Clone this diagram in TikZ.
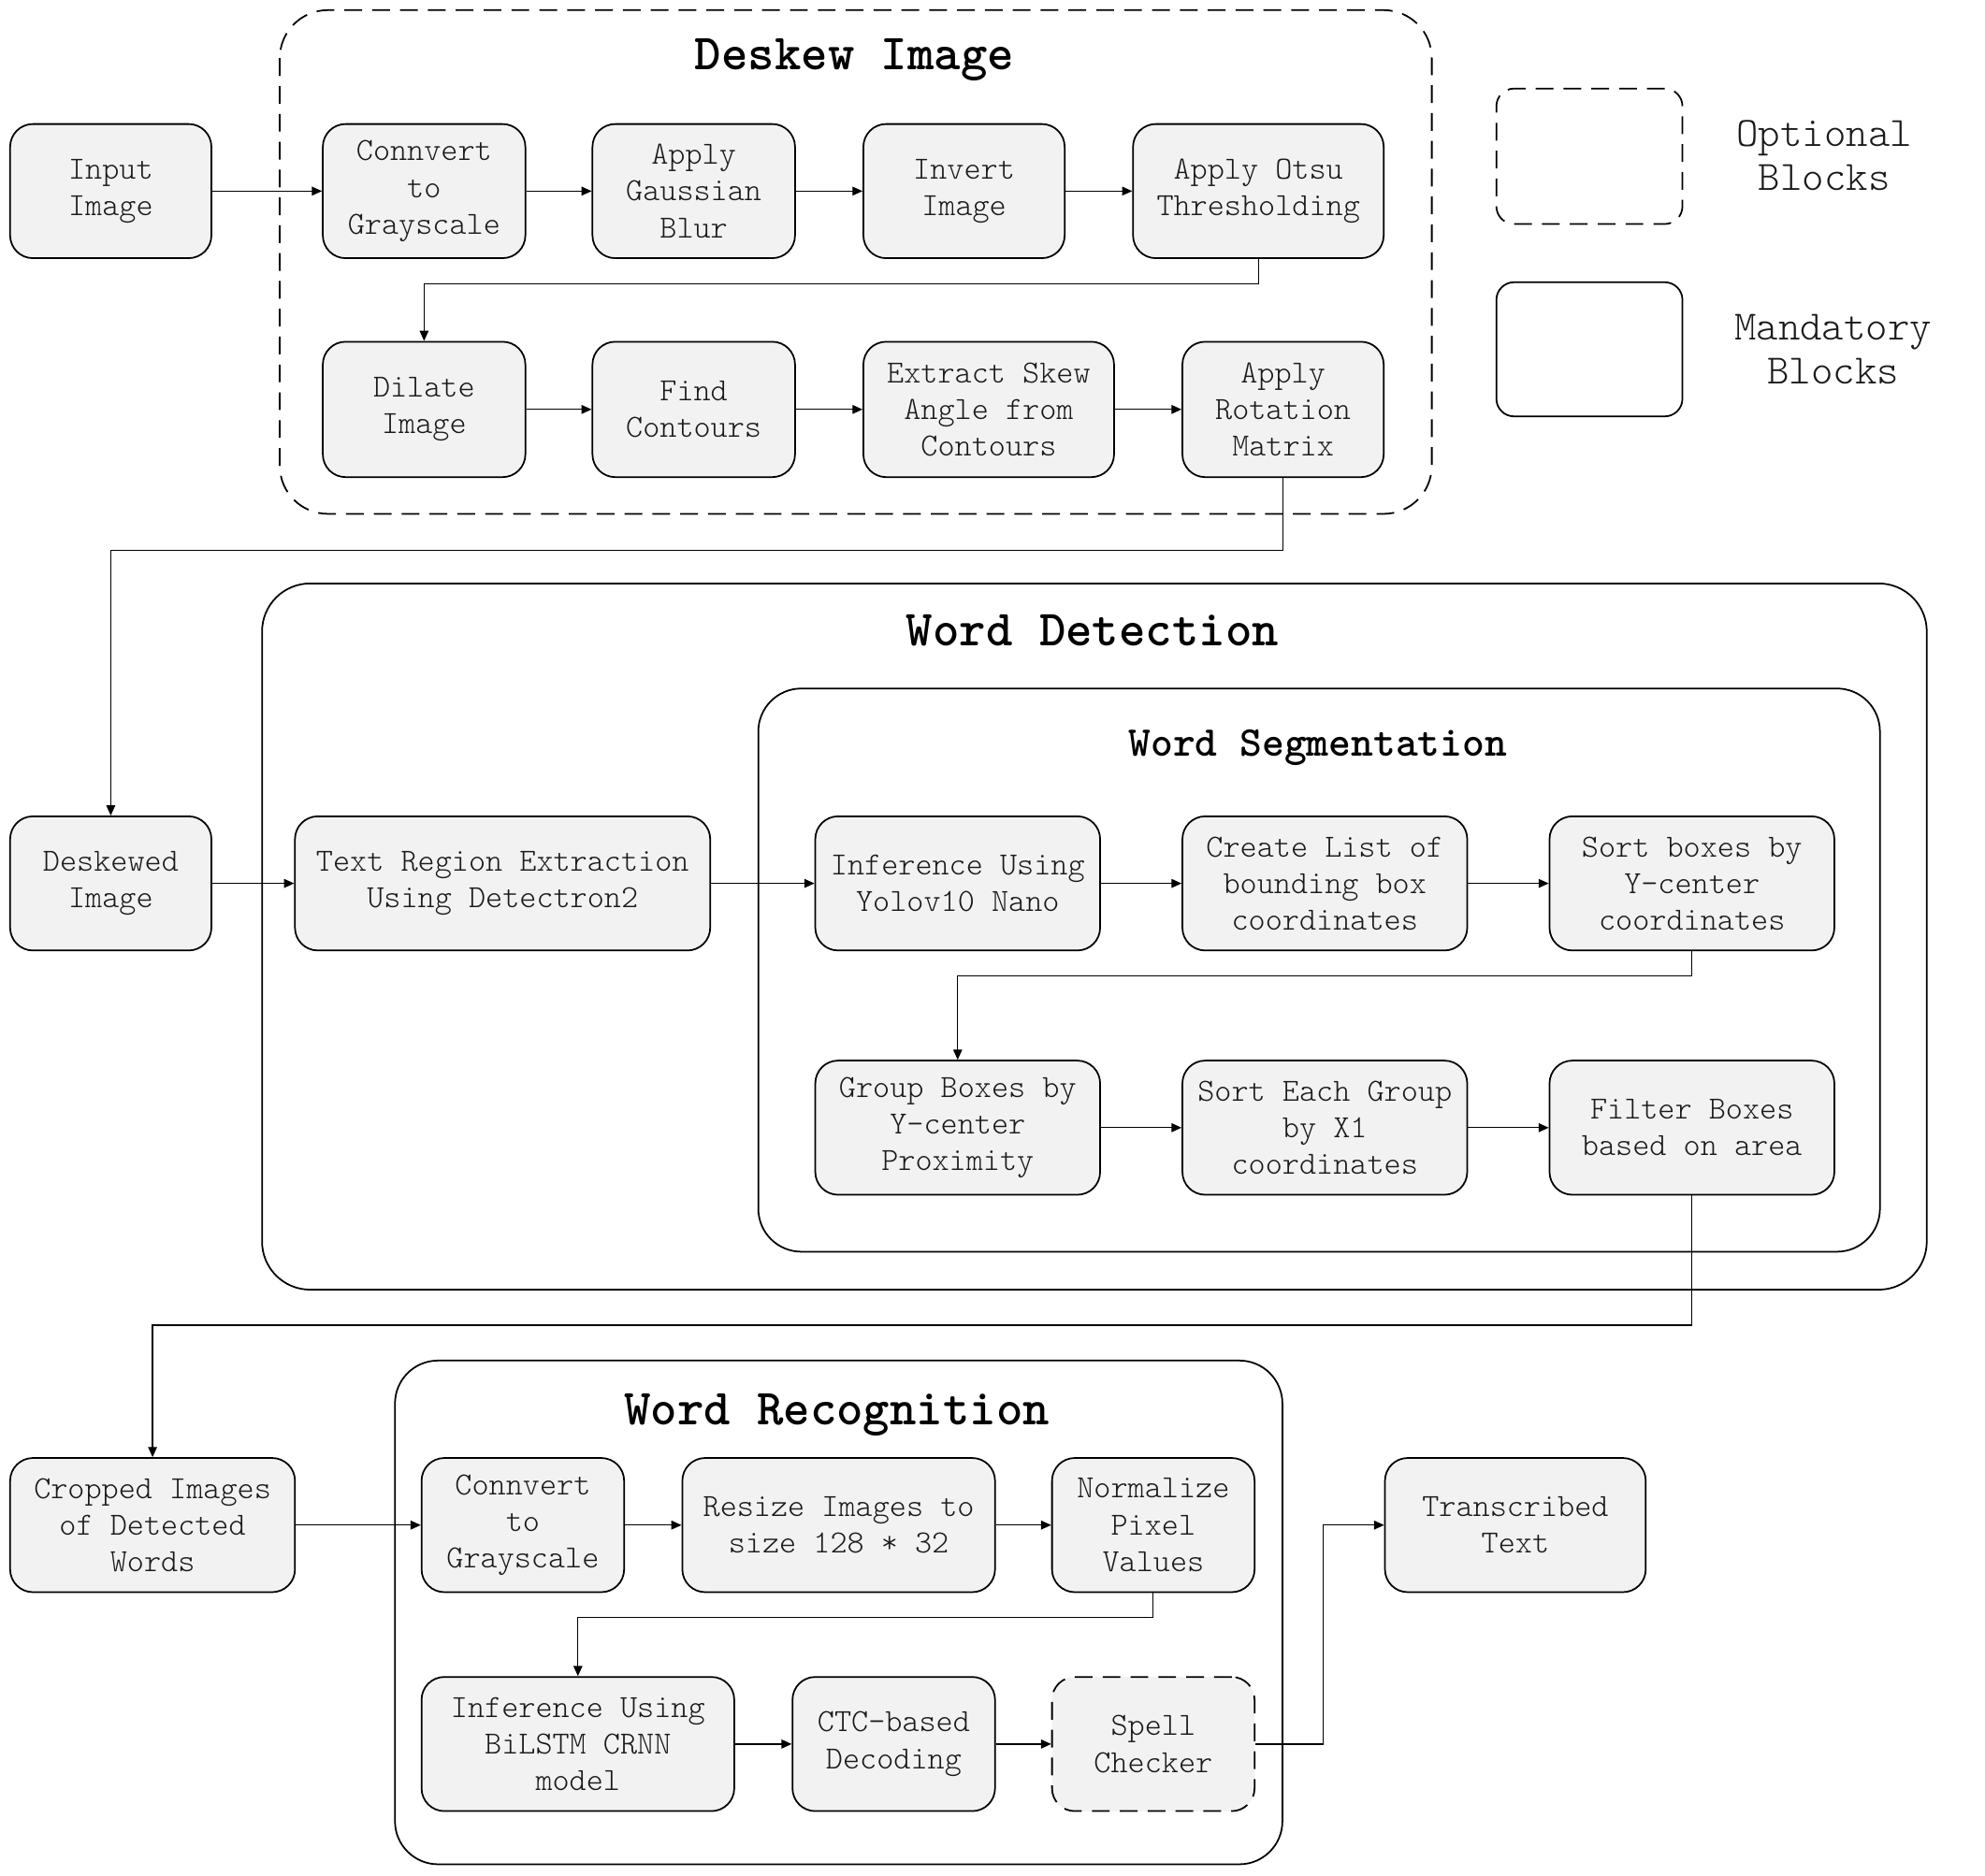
\documentclass[tikz,border=0pt]{standalone}
\usepackage{fontspec}
\setmonofont{Latin Modern Mono}
\newfontfamily\lmlight{Latin Modern Mono Light}
\usetikzlibrary{arrows.meta,calc}
\definecolor{boxfill}{HTML}{F2F2F2}
\definecolor{txt}{HTML}{1A1A1A}
\tikzset{
  blk/.style={draw=black, line width=1.3pt, fill=boxfill, rounded corners=18pt,
    inner sep=0pt, minimum height=106pt, align=center, text=txt,
    font=\lmlight\fontsize{25.5}{29}\selectfont,
    execute at begin node={\rule{0pt}{24.5pt}}},
  optblk/.style={blk, dashed, dash pattern=on 14pt off 8pt},
  cont/.style={draw=black, line width=1.3pt, rounded corners=38pt},
  optcont/.style={cont, dash pattern=on 14pt off 8pt},
  bigtitle/.style={font=\lmlight\bfseries\fontsize{40}{44}\selectfont, inner sep=0pt},
  subtitle/.style={font=\lmlight\bfseries\fontsize{33.5}{38}\selectfont, inner sep=0pt},
  legtext/.style={font=\lmlight\fontsize{33}{35}\selectfont, align=center, inner sep=0pt, text=txt},
  arr/.style={draw=black, line width=0.9pt, -{Triangle[length=8pt,width=7pt]}}
}
\begin{document}
\begin{tikzpicture}[x=1pt,y=-1pt]
\useasboundingbox[fill=white] (0,0) rectangle (1568,1482);

% ---------- containers ----------
\draw[optcont] (221,8) rectangle (1131,406);
\node[bigtitle] (tdeskew) at (675,47) {Deskew Image};
\draw[cont] (207,461) rectangle (1522,1019);
\node[bigtitle] (tdetect) at (863,498) {Word Detection};
\draw[cont,rounded corners=34pt] (599,544) rectangle (1485,989);
\node[subtitle] (tseg) at (1041,591) {Word Segmentation};
\draw[cont,rounded corners=34pt] (312,1075) rectangle (1013,1473);
\node[bigtitle] (trec) at (661,1118) {Word Recognition};

% ---------- legend ----------
\node[draw, line width=1.3pt, rounded corners=14pt, dash pattern=on 14pt off 8pt,
  minimum width=147pt, minimum height=107pt, inner sep=0pt] (legopt) at (1255.5,123.5) {};
\node[legtext] (legopttxt) at (1441,123) {Optional\\Blocks};
\node[draw, line width=1.3pt, rounded corners=14pt,
  minimum width=147pt, minimum height=106pt, inner sep=0pt] (legman) at (1255.5,276) {};
\node[legtext] (legmantxt) at (1448,276) {Mandatory\\Blocks};

% ---------- deskew ----------
\node[blk, minimum width=159pt] (input) at (87.5,151) {Input\\Image};
\node[blk, minimum width=160pt] (gray1) at (335,151) {Connvert\\to\\Grayscale};
\node[blk, minimum width=160pt] (blur) at (548,151) {Apply\\Gaussian\\Blur};
\node[blk, minimum width=159pt] (invert) at (761.5,151) {Invert\\Image};
\node[blk, minimum width=198pt] (otsu) at (994,151) {Apply Otsu\\Thresholding};

\node[blk, minimum width=160pt, minimum height=107pt] (dilate) at (335,323.5) {Dilate\\Image};
\node[blk, minimum width=160pt, minimum height=107pt] (contours) at (548,323.5) {Find\\Contours};
\node[blk, minimum width=198pt, minimum height=107pt] (skew) at (781,323.5) {Extract Skew\\Angle from\\Contours};
\node[blk, minimum width=159pt, minimum height=107pt] (rot) at (1013.5,323.5) {Apply\\Rotation\\Matrix};

% ---------- detection ----------
\node[blk, minimum width=159pt] (deskewed) at (87.5,698) {Deskewed\\Image};
\node[blk, minimum width=328pt] (region) at (397,698) {Text Region Extraction\\Using Detectron2};
\node[blk, minimum width=225pt] (yolo) at (756.5,698) {Inference Using\\Yolov10 Nano};
\node[blk, minimum width=225pt] (list) at (1046.5,698) {Create List of\\bounding box\\coordinates};
\node[blk, minimum width=225pt] (sorty) at (1336.5,698) {Sort boxes by\\Y-center\\coordinates};
\node[blk, minimum width=225pt] (group) at (756.5,891) {Group Boxes by\\Y-center\\Proximity};
\node[blk, minimum width=225pt] (sortx) at (1046.5,891) {Sort Each Group\\by X1\\coordinates};
\node[blk, minimum width=225pt] (filter) at (1336.5,891) {Filter Boxes\\based on area};

% ---------- recognition ----------
\node[blk, minimum width=225pt] (cropped) at (120.5,1205) {Cropped Images\\of Detected\\Words};
\node[blk, minimum width=160pt] (gray2) at (413,1205) {Connvert\\to\\Grayscale};
\node[blk, minimum width=247pt] (resize) at (662.5,1205) {Resize Images to\\size 128 * 32};
\node[blk, minimum width=160pt] (norm) at (911,1205) {Normalize\\Pixel\\Values};
\node[blk, minimum width=247pt] (crnn) at (456.5,1378) {Inference Using\\BiLSTM CRNN\\model};
\node[blk, minimum width=160pt] (ctc) at (706,1378) {CTC-based\\Decoding};
\node[optblk, minimum width=160pt] (spell) at (911,1378) {Spell\\Checker};
\node[blk, minimum width=206pt] (trans) at (1197,1205) {Transcribed\\Text};

% ---------- junctions ----------
\coordinate (j1) at (0,224);
\coordinate (j2) at (0,435);
\coordinate (j3) at (0,771);
\coordinate (j4) at (0,1047);
\coordinate (j5) at (0,1278);
\coordinate (j6) at (1045,1300);

% ---------- connectors ----------
\draw[arr] (input) -- (gray1);
\draw[arr] (gray1) -- (blur);
\draw[arr] (blur) -- (invert);
\draw[arr] (invert) -- (otsu);
\draw[arr] (otsu.south) -- (otsu.south |- j1) -| (dilate.north);
\draw[arr] (dilate) -- (contours);
\draw[arr] (contours) -- (skew);
\draw[arr] (skew) -- (rot);
\draw[arr] (rot.south) -- (rot.south |- j2) -| (deskewed.north);

\draw[arr] (deskewed) -- (region);
\draw[arr] (region) -- (yolo);
\draw[arr] (yolo) -- (list);
\draw[arr] (list) -- (sorty);
\draw[arr] (sorty.south) -- (sorty.south |- j3) -| (group.north);
\draw[arr] (group) -- (sortx);
\draw[arr] (sortx) -- (filter);
\draw[arr] (filter.south) -- (filter.south |- j4) -| (cropped.north);

\draw[arr] (cropped) -- (gray2);
\draw[arr] (gray2) -- (resize);
\draw[arr] (resize) -- (norm);
\draw[arr] (norm.south) -- (norm.south |- j5) -| (crnn.north);
\draw[arr] (crnn) -- (ctc);
\draw[arr] (ctc) -- (spell);
\draw[arr] (spell.east) -| (j6) |- (trans.west);
\end{tikzpicture}
\end{document}
